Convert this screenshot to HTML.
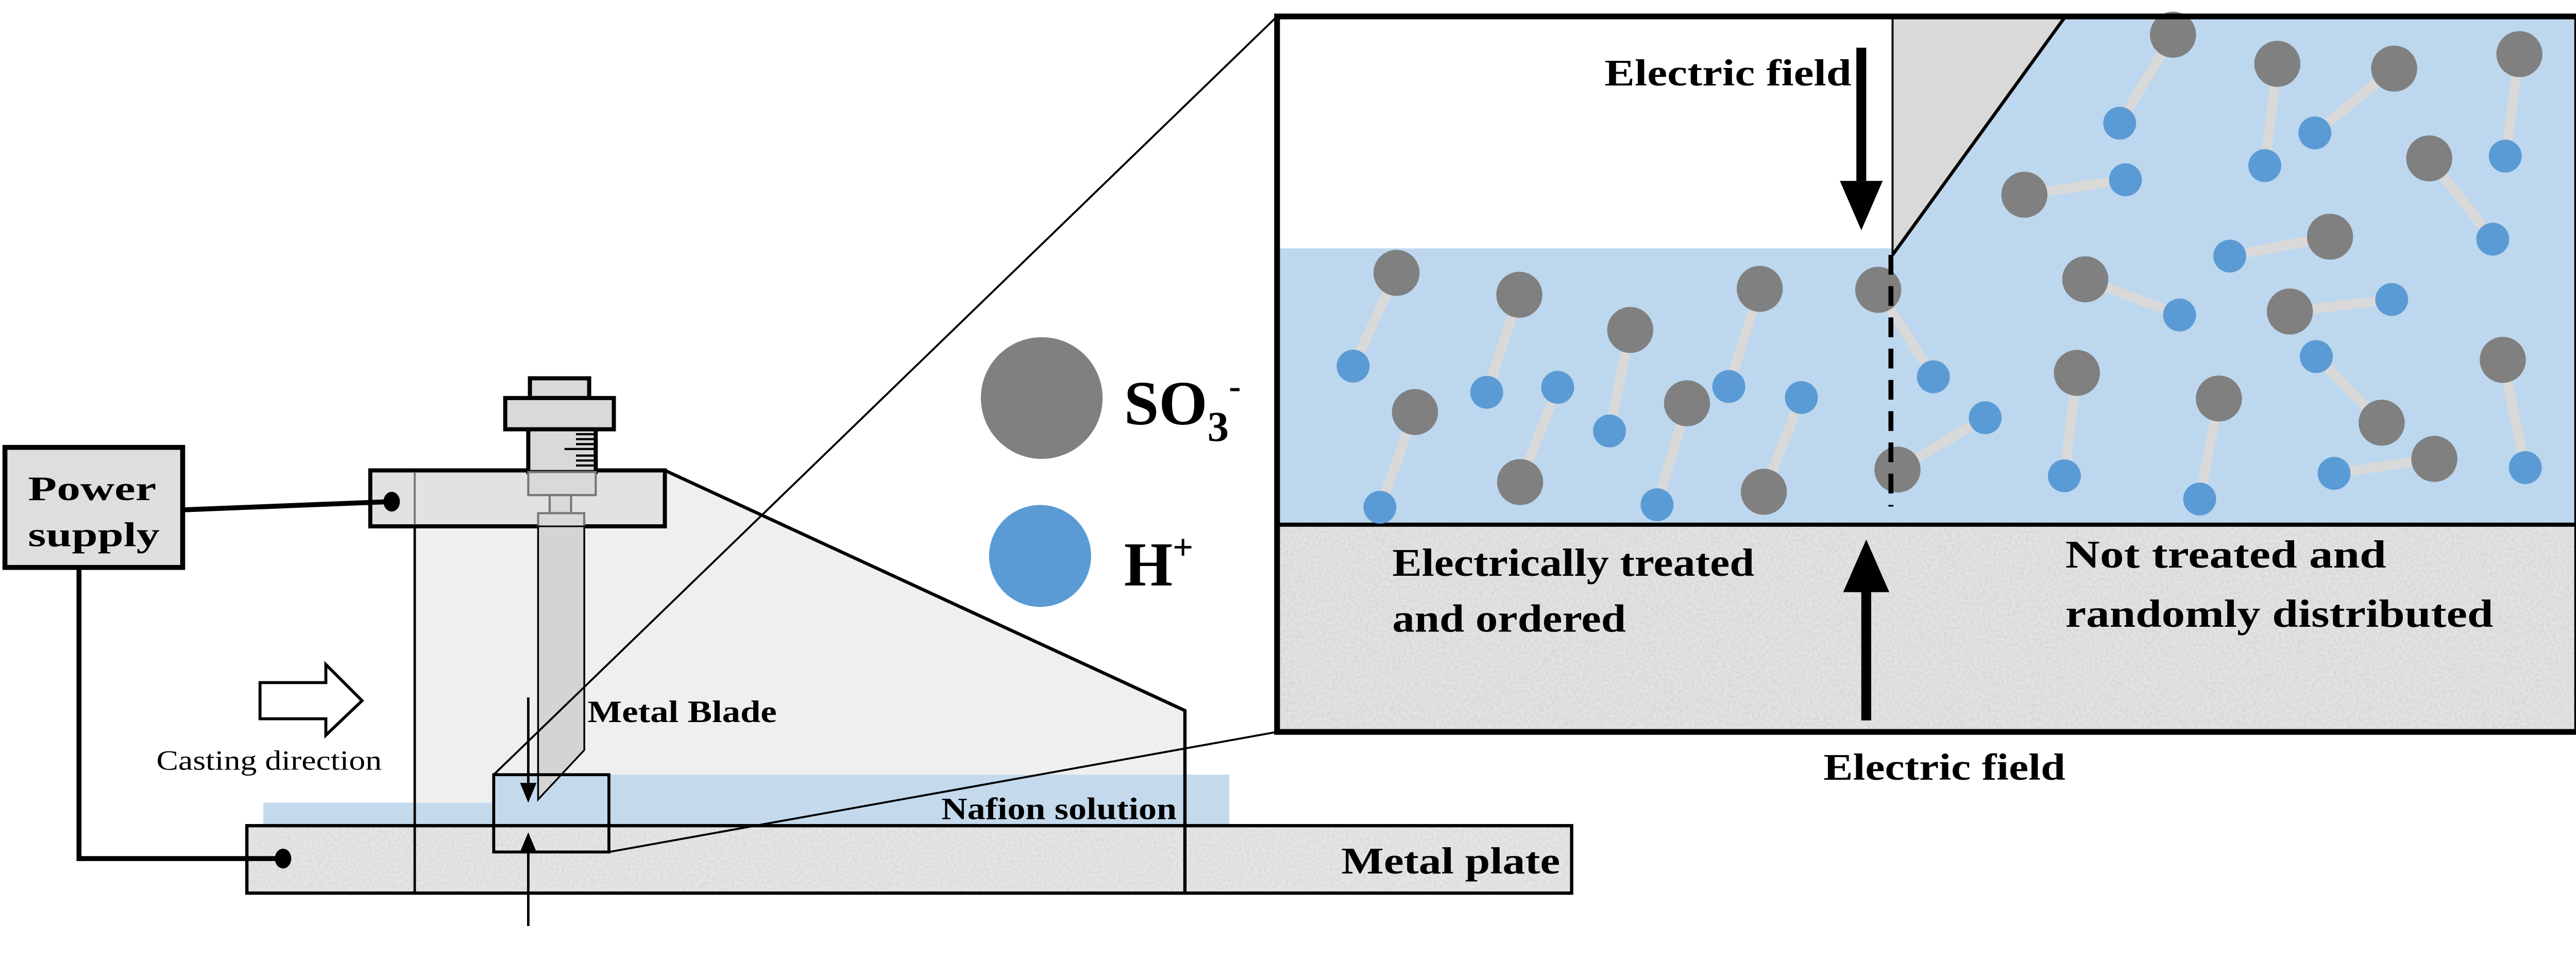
<!DOCTYPE html>
<html><head><meta charset="utf-8"><style>
html,body{margin:0;padding:0;background:#fff;width:5277px;height:1897px;overflow:hidden;}
svg{display:block;position:absolute;left:0;top:0;width:5277px;height:1897px;}
text{font-family:"Liberation Serif","DejaVu Serif",serif;}
</style></head><body>
<svg viewBox="0 0 1652 594" preserveAspectRatio="none" xmlns="http://www.w3.org/2000/svg" font-family="Liberation Serif, serif">
<defs>
<filter id="spk" x="0" y="0" width="100%" height="100%">
<feTurbulence type="fractalNoise" baseFrequency="0.6" numOctaves="2" seed="3"/>
<feColorMatrix type="matrix" values="0 0 0 0 0.5  0 0 0 0 0.5  0 0 0 0 0.5  0 0 0 -1.6 1.1"/>
</filter>
</defs>

<polygon points="252,286 404,286 720,432 720,543 252,543" fill="#efefef"/>
<polygon points="160,488 300,488 300,471 747,471 747,502 160,502" fill="#c5d9ec"/>
<rect x="150" y="502" width="805" height="41" fill="#e6e6e6"/>
<rect x="150" y="502" width="805" height="41" fill="#fff" filter="url(#spk)" opacity="0.35"/>
<rect x="150" y="502" width="805" height="41" fill="none" stroke="#000" stroke-width="2"/>
<line x1="252" y1="320" x2="252" y2="543" stroke="#000" stroke-width="1.5"/>
<polyline points="404,286 720,432 720,543" fill="none" stroke="#000" stroke-width="2"/>
<rect x="225" y="286" width="179" height="34" fill="#e2e2e2" stroke="#000" stroke-width="2.5"/>
<line x1="252" y1="287" x2="252" y2="319" stroke="#777" stroke-width="1.2"/>
<rect x="322" y="230" width="36" height="12" fill="#d9d9d9" stroke="#000" stroke-width="2.5"/>
<rect x="307" y="242" width="66" height="19" fill="#d9d9d9" stroke="#000" stroke-width="2.5"/>
<rect x="321" y="261" width="41" height="26" fill="#d9d9d9" stroke="#000" stroke-width="2.5"/>
<g stroke="#000" stroke-width="1.3">
<line x1="350" y1="264" x2="361" y2="264"/><line x1="350" y1="267" x2="361" y2="267"/><line x1="350" y1="270" x2="361" y2="270"/>
<line x1="343" y1="273" x2="361" y2="273"/><line x1="350" y1="277" x2="361" y2="277"/><line x1="350" y1="280" x2="361" y2="280"/><line x1="350" y1="283" x2="361" y2="283"/>
</g>
<rect x="321" y="287" width="41" height="14" fill="#d9d9d9" stroke="#777" stroke-width="1.3"/>
<rect x="334" y="301" width="13" height="11" fill="#d9d9d9" stroke="#777" stroke-width="1.3"/>
<polygon points="327,312 355,312 355,456 327,486" fill="#d9d9d9" stroke="#777" stroke-width="1.3"/>
<polygon points="327,320 355,320 355,456 327,486" fill="#d4d4d4" stroke="#000" stroke-width="1"/>
<rect x="300" y="471" width="70" height="47" fill="none" stroke="#000" stroke-width="1.8"/>
<line x1="321" y1="424" x2="321" y2="478" stroke="#000" stroke-width="1.5"/>
<polygon points="316,476 326,476 321,488" fill="#000"/>
<line x1="321" y1="563" x2="321" y2="516" stroke="#000" stroke-width="1.5"/>
<polygon points="316,518 326,518 321,506" fill="#000"/>
<rect x="3" y="272" width="108" height="73" fill="#dedede" stroke="#000" stroke-width="3"/>
<text x="17" y="304" font-size="21" font-weight="bold" textLength="78" lengthAdjust="spacingAndGlyphs">Power</text>
<text x="17" y="332" font-size="21" font-weight="bold" textLength="80" lengthAdjust="spacingAndGlyphs">supply</text>
<line x1="111" y1="310" x2="237" y2="305" stroke="#000" stroke-width="3"/>
<ellipse cx="238" cy="305" rx="5" ry="6" fill="#000"/>
<polyline points="48,345 48,522 172,522" fill="none" stroke="#000" stroke-width="3"/>
<ellipse cx="172" cy="522" rx="5" ry="6" fill="#000"/>
<polygon points="158,415 198,415 198,404 220,426 198,447 198,437 158,437" fill="#fff" stroke="#000" stroke-width="1.8"/>
<text x="95" y="468" font-size="17" textLength="137" lengthAdjust="spacingAndGlyphs">Casting direction</text>
<text x="357" y="439" font-size="19" font-weight="bold" textLength="115" lengthAdjust="spacingAndGlyphs">Metal Blade</text>
<text x="572" y="498" font-size="19" font-weight="bold" textLength="143" lengthAdjust="spacingAndGlyphs">Nafion solution</text>
<text x="815" y="531" font-size="23" font-weight="bold" textLength="133" lengthAdjust="spacingAndGlyphs">Metal plate</text>
<line x1="300" y1="471" x2="776" y2="10" stroke="#000" stroke-width="1.2"/>
<line x1="370" y1="518" x2="776" y2="445" stroke="#000" stroke-width="1.2"/>

<ellipse cx="633" cy="242" rx="37" ry="37" fill="#808080"/>
<ellipse cx="632" cy="338" rx="31" ry="31" fill="#5b9bd5"/>
<text x="683" y="258" font-size="38" font-weight="bold">SO<tspan font-size="26" dy="10">3</tspan><tspan font-size="22" dy="-26">-</tspan></text>
<text x="683" y="356" font-size="38" font-weight="bold">H<tspan font-size="22" dy="-16">+</tspan></text>

<rect x="776" y="10" width="790" height="435" fill="#fff"/>
<rect x="776" y="151" width="374" height="168" fill="#bdd7ee"/>
<polygon points="1255,10 1566,10 1566,319 1150,319 1150,155" fill="#bdd7ee"/>
<polygon points="1150,10 1255,10 1150,155" fill="#d9d9d9"/>
<line x1="1150" y1="10" x2="1150" y2="155" stroke="#000" stroke-width="1.2"/>
<line x1="1255" y1="10" x2="1150" y2="155" stroke="#000" stroke-width="2"/>
<rect x="776" y="319" width="790" height="126" fill="#e3e3e3"/>
<rect x="776" y="319" width="790" height="126" fill="#fff" filter="url(#spk)" opacity="0.4"/>
<line x1="776" y1="319" x2="1566" y2="319" stroke="#000" stroke-width="2.5"/>
<g stroke="#d9d9d9" stroke-width="6">
<line x1="848.6" y1="165.9" x2="822.2" y2="222.6"/>
<line x1="923.2" y1="179.2" x2="903.4" y2="238.5"/>
<line x1="990.6" y1="200.6" x2="978" y2="262"/>
<line x1="859.8" y1="250.5" x2="838.5" y2="308.4"/>
<line x1="1069.3" y1="175.6" x2="1050.5" y2="235"/>
<line x1="923.7" y1="293.1" x2="946.5" y2="235.5"/>
<line x1="1025.1" y1="245.2" x2="1006.9" y2="306.9"/>
<line x1="1071.8" y1="299" x2="1094.6" y2="241.7"/>
<line x1="1141.3" y1="176.2" x2="1174.8" y2="229.1"/>
<line x1="1153" y1="285.5" x2="1206.3" y2="254"/>
<line x1="1320.4" y1="21.1" x2="1288" y2="74.9"/>
<line x1="1383.8" y1="38.8" x2="1376.2" y2="100.7"/>
<line x1="1454.8" y1="41.7" x2="1406.6" y2="80.8"/>
<line x1="1530.9" y1="32.9" x2="1522.3" y2="94.9"/>
<line x1="1230.1" y1="118.4" x2="1291.5" y2="109.3"/>
<line x1="1476.1" y1="96.3" x2="1514.7" y2="145.4"/>
<line x1="1415.8" y1="143.9" x2="1354.9" y2="155.7"/>
<line x1="1267.1" y1="169.8" x2="1324.4" y2="191.5"/>
<line x1="1391.4" y1="189.4" x2="1453.3" y2="182.1"/>
<line x1="1262" y1="226.7" x2="1254.4" y2="289.3"/>
<line x1="1348.3" y1="242.3" x2="1336.6" y2="303.4"/>
<line x1="1447.2" y1="257" x2="1407.5" y2="216.8"/>
<line x1="1479.2" y1="279" x2="1418.3" y2="287.8"/>
<line x1="1520.8" y1="218.8" x2="1534.5" y2="284.3"/>
</g>
<g fill="#5b9bd5">
<circle cx="822.2" cy="222.6" r="10"/><circle cx="903.4" cy="238.5" r="10"/><circle cx="978" cy="262" r="10"/>
<circle cx="838.5" cy="308.4" r="10"/><circle cx="1050.5" cy="235" r="10"/><circle cx="946.5" cy="235.5" r="10"/>
<circle cx="1006.9" cy="306.9" r="10"/><circle cx="1094.6" cy="241.7" r="10"/><circle cx="1174.8" cy="229.1" r="10"/>
<circle cx="1206.3" cy="254" r="10"/><circle cx="1288" cy="74.9" r="10"/><circle cx="1376.2" cy="100.7" r="10"/>
<circle cx="1406.6" cy="80.8" r="10"/><circle cx="1522.3" cy="94.9" r="10"/><circle cx="1291.5" cy="109.3" r="10"/>
<circle cx="1514.7" cy="145.4" r="10"/><circle cx="1354.9" cy="155.7" r="10"/><circle cx="1324.4" cy="191.5" r="10"/>
<circle cx="1453.3" cy="182.1" r="10"/><circle cx="1254.4" cy="289.3" r="10"/><circle cx="1336.6" cy="303.4" r="10"/>
<circle cx="1407.5" cy="216.8" r="10"/><circle cx="1418.3" cy="287.8" r="10"/><circle cx="1534.5" cy="284.3" r="10"/>
</g>
<g fill="#808080">
<circle cx="848.6" cy="165.9" r="14"/><circle cx="923.2" cy="179.2" r="14"/><circle cx="990.6" cy="200.6" r="14"/>
<circle cx="859.8" cy="250.5" r="14"/><circle cx="1069.3" cy="175.6" r="14"/><circle cx="923.7" cy="293.1" r="14"/>
<circle cx="1025.1" cy="245.2" r="14"/><circle cx="1071.8" cy="299" r="14"/><circle cx="1141.3" cy="176.2" r="14"/>
<circle cx="1153" cy="285.5" r="14"/><circle cx="1320.4" cy="21.1" r="14"/><circle cx="1383.8" cy="38.8" r="14"/>
<circle cx="1454.8" cy="41.7" r="14"/><circle cx="1530.9" cy="32.9" r="14"/><circle cx="1230.1" cy="118.4" r="14"/>
<circle cx="1476.1" cy="96.3" r="14"/><circle cx="1415.8" cy="143.9" r="14"/><circle cx="1267.1" cy="169.8" r="14"/>
<circle cx="1391.4" cy="189.4" r="14"/><circle cx="1262" cy="226.7" r="14"/><circle cx="1348.3" cy="242.3" r="14"/>
<circle cx="1447.2" cy="257" r="14"/><circle cx="1479.2" cy="279" r="14"/><circle cx="1520.8" cy="218.8" r="14"/>
</g>
<line x1="1149" y1="155" x2="1149" y2="308" stroke="#000" stroke-width="3" stroke-dasharray="12,7"/>
<line x1="1131" y1="29" x2="1131" y2="110" stroke="#000" stroke-width="6"/>
<polygon points="1118,110 1144,110 1131,140" fill="#000"/>
<text x="975" y="52" font-size="23" font-weight="bold" textLength="150" lengthAdjust="spacingAndGlyphs">Electric field</text>
<line x1="1134" y1="438" x2="1134" y2="358" stroke="#000" stroke-width="6"/>
<polygon points="1120,360 1148,360 1134,328" fill="#000"/>
<text x="1108" y="474" font-size="23" font-weight="bold" textLength="147" lengthAdjust="spacingAndGlyphs">Electric field</text>
<text x="846" y="350" font-size="24" font-weight="bold" textLength="220" lengthAdjust="spacingAndGlyphs">Electrically treated</text>
<text x="846" y="384" font-size="24" font-weight="bold" textLength="142" lengthAdjust="spacingAndGlyphs">and ordered</text>
<text x="1255" y="345" font-size="24" font-weight="bold" textLength="195" lengthAdjust="spacingAndGlyphs">Not treated and</text>
<text x="1255" y="381" font-size="24" font-weight="bold" textLength="260" lengthAdjust="spacingAndGlyphs">randomly distributed</text>
<rect x="776" y="10" width="790" height="435" fill="none" stroke="#000" stroke-width="3.5"/>
</svg>
</body></html>
